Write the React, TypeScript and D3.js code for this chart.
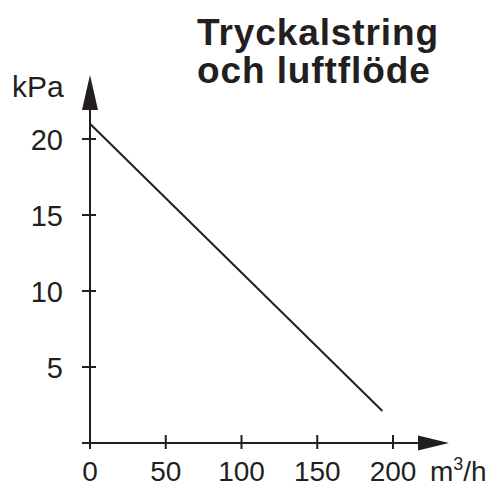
import * as d3 from "d3";
import { useEffect, useRef } from "react";

// data
const flow = [0, 193]; // m3/h
const pressure = [21, 2.1]; // kPa
const xTicks = [0, 50, 100, 150, 200];
const yTicks = [5, 10, 15, 20];
const titleLines = ["Tryckalstring", "och luftflöde"];

const W = 494;
const H = 486;
const ink = "#231f20";
const font = "Liberation Sans, Arial, Helvetica, sans-serif";

const App = () => {
    const svgRef = useRef<SVGSVGElement>(null);

    useEffect(() => {
        const svg = d3.select(svgRef.current);
        svg.selectAll("*").remove();

        const x = d3.scaleLinear().domain([0, 200]).range([90, 393]);
        const y = d3.scaleLinear().domain([0, 20]).range([443, 139]);

        const g = svg.append("g");

        // axes lines
        g.append("line")
            .attr("x1", 82).attr("x2", 420)
            .attr("y1", y(0)).attr("y2", y(0))
            .attr("stroke", ink).attr("stroke-width", 2);
        g.append("line")
            .attr("x1", x(0)).attr("x2", x(0))
            .attr("y1", 449).attr("y2", 108)
            .attr("stroke", ink).attr("stroke-width", 2);

        // arrow heads
        const x0 = x(0);
        const y0 = y(0);
        g.append("path")
            .attr("d", `M${x0},75 L${x0 + 8},110 L${x0 - 8},110 Z`)
            .attr("fill", ink);
        g.append("path")
            .attr("d", `M449,${y0} L418,${y0 - 7.5} L418,${y0 + 7.5} Z`)
            .attr("fill", ink);

        // y ticks
        g.selectAll(".yt")
            .data(yTicks)
            .enter()
            .append("line")
            .attr("x1", x0 - 8).attr("x2", x0 + 6)
            .attr("y1", (d) => y(d)).attr("y2", (d) => y(d))
            .attr("stroke", ink).attr("stroke-width", 2);
        g.selectAll(".yl")
            .data(yTicks)
            .enter()
            .append("text")
            .attr("x", 63)
            .attr("y", (d) => y(d) + 10.5)
            .attr("text-anchor", "end")
            .attr("font-family", font)
            .attr("font-size", 29)
            .attr("fill", ink)
            .text((d) => d);

        // x ticks
        g.selectAll(".xt")
            .data(xTicks.filter((d) => d > 0))
            .enter()
            .append("line")
            .attr("x1", (d) => x(d)).attr("x2", (d) => x(d))
            .attr("y1", y0 - 8).attr("y2", y0 + 6)
            .attr("stroke", ink).attr("stroke-width", 2);
        g.selectAll(".xl")
            .data(xTicks)
            .enter()
            .append("text")
            .attr("x", (d) => x(d))
            .attr("y", 481)
            .attr("text-anchor", "middle")
            .attr("font-family", font)
            .attr("font-size", 28)
            .attr("fill", ink)
            .text((d) => d);

        // axis units
        g.append("text")
            .attr("x", 12).attr("y", 97)
            .attr("font-family", font).attr("font-size", 30)
            .attr("fill", ink)
            .text("kPa");
        const unit = g.append("text")
            .attr("x", 430).attr("y", 481)
            .attr("font-family", font).attr("font-size", 28)
            .attr("fill", ink);
        unit.append("tspan").text("m");
        unit.append("tspan").attr("dy", -11).attr("font-size", 18).text("3");
        unit.append("tspan").attr("dy", 11).text("/h");

        // data line
        const line = d3.line<number>()
            .x((d) => x(d))
            .y((_, i) => y(pressure[i]));
        g.append("path")
            .attr("d", line(flow))
            .attr("fill", "none")
            .attr("stroke", ink)
            .attr("stroke-width", 2);

        // title
        g.selectAll(".title")
            .data(titleLines)
            .enter()
            .append("text")
            .attr("x", 197)
            .attr("y", (_, i) => 45 + i * 38)
            .attr("font-family", font)
            .attr("font-size", 37)
            .attr("font-weight", "bold")
            .attr("letter-spacing", 0.9)
            .attr("fill", ink)
            .text((d) => d);
    }, []);

    return (
        <svg
            ref={svgRef}
            width={W}
            height={H}
            style={{ position: "absolute", left: 0, top: 0, background: "#fff" }}
        ></svg>
    );
};

export default App;
